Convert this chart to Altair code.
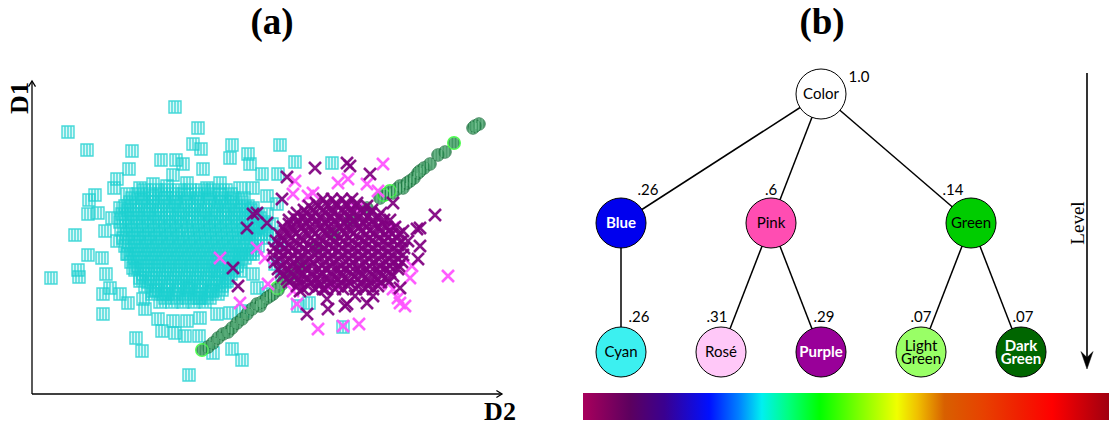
import altair as alt
import pandas as pd

# ---------------- panel (a): (D2, D1) values ----------------
cyan_pts = [
    (143, 287), (166, 266), (36, 262), (55, 244), (100, 243), (248, 249), (129, 234), (161, 250),
    (169, 245), (200, 249), (216, 240), (263, 232), (300, 231), (97, 225), (144, 234), (151, 230),
    (198, 236), (218, 230), (230, 220), (246, 220), (141, 219), (171, 225), (85, 215), (82, 206),
    (57, 194), (63, 199), (43, 159), (56, 139), (19, 116), (46, 124), (47, 117), (71, 80),
    (104, 56), (110, 43), (157, 19), (210, 34), (200, 45), (181, 41), (277, 91), (266, 88),
    (311, 67), (66, 181), (56, 180), (73, 163), (70, 136), (74, 120), (78, 106), (71, 100),
    (88, 100), (96, 91), (111, 95), (113, 85), (126, 75), (130, 63), (143, 61), (153, 58),
    (167, 58), (141, 73), (155, 73), (168, 76), (185, 80), (198, 81), (211, 83), (225, 106),
    (235, 100), (221, 120), (208, 123), (195, 113), (181, 103), (168, 96), (155, 106), (135, 100),
    (121, 103), (108, 113), (101, 126), (95, 140), (85, 153), (80, 176), (88, 186), (95, 200),
    (108, 206), (121, 210), (135, 208), (155, 211), (175, 206), (188, 211), (208, 206), (221, 206),
    (235, 198), (245, 190), (235, 180), (221, 186), (225, 166), (215, 160), (221, 140), (208, 140),
    (198, 126), (185, 123), (240, 170), (248, 150), (243, 130), (250, 115), (238, 160),
]
# dense cyan core: D1 row -> D2 positions
cyan_core_rows = {
    204: [112, 124, 135, 147, 158, 170, 181, 194],
    200: [106, 118, 129, 141, 152, 164, 176, 188, 199],
    196: [100, 111, 121, 133, 144, 156, 166, 178, 190, 201, 212],
    192: [98, 110, 121, 132, 143, 154, 166, 177, 188, 199, 210],
    188: [93, 104, 115, 126, 137, 148, 160, 171, 183, 193, 204, 216],
    184: [96, 107, 118, 129, 141, 152, 163, 174, 185, 197, 208, 219],
    180: [90, 101, 112, 123, 135, 146, 157, 168, 179, 191, 202, 213, 224],
    176: [94, 105, 116, 127, 138, 149, 160, 172, 183, 194, 205, 216, 228],
    172: [88, 99, 110, 121, 132, 143, 154, 166, 177, 188, 199, 210, 221, 232],
    168: [94, 105, 116, 127, 138, 149, 161, 172, 183, 194, 205, 216, 227],
    164: [89, 100, 111, 122, 133, 144, 156, 167, 178, 189, 200, 211, 222, 233],
    160: [95, 106, 117, 128, 139, 150, 162, 173, 184, 195, 206, 217, 229],
    156: [91, 102, 113, 124, 135, 146, 157, 168, 179, 190, 201, 212, 223, 235],
    152: [97, 108, 119, 130, 141, 152, 163, 174, 185, 196, 207, 219],
    148: [93, 104, 115, 126, 137, 148, 159, 170, 181, 192, 203, 214, 226],
    144: [100, 111, 122, 133, 144, 155, 166, 177, 188, 199, 210, 221],
    140: [96, 107, 118, 129, 140, 151, 162, 173, 184, 195, 206, 218],
    136: [103, 114, 125, 136, 147, 158, 169, 180, 191, 202, 213],
    132: [99, 110, 121, 132, 143, 154, 165, 176, 187, 198, 209],
    128: [106, 117, 128, 139, 150, 161, 172, 183, 194, 205],
    124: [103, 114, 125, 136, 147, 158, 169, 180, 191, 202],
    120: [111, 122, 133, 144, 155, 166, 177, 188, 199],
    116: [108, 119, 130, 141, 152, 163, 174, 185, 196],
    112: [116, 127, 138, 149, 160, 171, 182, 193],
    108: [113, 124, 135, 146, 157, 168, 179, 190],
    104: [124, 135, 146, 157, 168, 179, 190],
    100: [120, 131, 142, 153, 164, 175, 186],
    96: [133, 145, 156, 167, 178],
    92: [128, 140, 151, 162, 173],
}

purple_pts = [
    (283, 226), (315, 231), (255, 217), (338, 220), (403, 179), (215, 166), (221, 180), (201, 126),
    (206, 108), (275, 80), (296, 85), (315, 90), (335, 91), (388, 166), (388, 148), (386, 135),
    (368, 106), (371, 163), (295, 95), (268, 103), (225, 181), (235, 171), (250, 195), (318, 228),
    (385, 165), (361, 191), (323, 98), (376, 153), (341, 98), (313, 88), (293, 105),
]
# dense purple core: D1 row -> D2 positions
purple_core_rows = {
    105: [271, 283, 291, 303, 311, 324, 333, 341],
    108: [265, 276, 287, 296, 306, 316, 326, 336, 346],
    112: [257, 267, 279, 287, 298, 309, 317, 329, 338, 349, 357],
    115: [255, 266, 275, 285, 295, 305, 315, 325, 335, 345, 355],
    118: [251, 262, 270, 281, 289, 301, 310, 322, 330, 341, 350, 361],
    122: [249, 259, 270, 280, 290, 299, 309, 318, 328, 338, 348, 358],
    125: [246, 255, 266, 274, 286, 294, 305, 313, 326, 334, 345, 353, 366],
    128: [250, 260, 270, 280, 290, 299, 309, 318, 328, 338, 348, 358, 367],
    132: [243, 254, 262, 273, 281, 293, 302, 314, 321, 333, 342, 354, 362, 370],
    135: [248, 257, 267, 277, 287, 297, 307, 317, 327, 337, 347, 357, 366],
    139: [241, 251, 261, 270, 283, 291, 300, 311, 320, 331, 340, 351, 360, 371],
    142: [247, 256, 266, 276, 286, 296, 306, 316, 326, 336, 346, 356, 366],
    146: [242, 253, 260, 272, 280, 292, 301, 310, 322, 330, 341, 350, 362, 372],
    149: [248, 257, 267, 277, 287, 297, 307, 316, 326, 336, 346, 356, 366],
    153: [244, 252, 263, 271, 282, 290, 303, 311, 320, 332, 340, 352, 361, 370],
    156: [250, 259, 269, 279, 288, 298, 308, 317, 327, 337, 347, 356, 365],
    160: [247, 256, 264, 275, 283, 294, 302, 313, 321, 334, 342, 353, 360, 367],
    163: [253, 262, 272, 281, 291, 300, 310, 319, 329, 338, 348, 357],
    167: [251, 260, 270, 278, 289, 297, 308, 316, 327, 335, 346, 355, 363],
    170: [257, 266, 275, 285, 294, 304, 313, 323, 332, 342, 351],
    174: [257, 266, 276, 285, 295, 303, 314, 322, 333, 341, 352, 358],
    177: [262, 271, 280, 289, 299, 308, 318, 327, 336, 346],
    181: [265, 274, 283, 293, 301, 312, 320, 331, 339, 349],
    184: [272, 281, 291, 300, 310, 319, 329, 340],
    188: [277, 286, 296, 305, 315, 324, 335],
    191: [284, 294, 304, 314, 325],
    195: [291, 300, 310, 320],
}

magenta_pts = [
    (351, 230), (263, 213), (416, 118), (373, 88), (368, 91), (286, 65), (327, 70), (311, 68),
    (188, 136), (208, 91), (225, 146), (233, 136), (261, 200), (281, 201), (335, 210), (346, 203),
    (378, 116), (361, 166), (348, 110), (301, 110), (261, 103), (265, 90), (276, 198), (306, 211),
    (316, 215), (325, 185), (361, 105), (380, 128), (366, 96), (236, 110),
]

green_pts = [
    (176, 47), (181, 51), (186, 56), (191, 60), (196, 62), (200, 66), (205, 71), (210, 75),
    (215, 80), (220, 85), (225, 90), (228, 88), (230, 92), (235, 96), (238, 98), (241, 100),
    (246, 104), (250, 110), (252, 113), (255, 116), (260, 120), (268, 130), (285, 146), (301, 160),
    (318, 173), (335, 186), (348, 196), (355, 200), (361, 201), (365, 205), (368, 208), (371, 206),
    (375, 211), (378, 213), (382, 216), (386, 221), (388, 223), (392, 226), (398, 230), (406, 239),
    (413, 242), (441, 266), (447, 270), (443, 268),
]
green_rim_pts = [(170, 44), (245, 106), (358, 203), (422, 251), (352, 199)]

# ---------------- panel (b): colour hierarchy ----------------
node_names = ["Color", "Blue", "Pink", "Green", "Cyan", "Rosé", "Purple", "Light Green", "Dark Green"]
node_parent = [None, "Color", "Color", "Color", "Blue", "Pink", "Pink", "Green", "Green"]
node_weight = ["1.0", ".26", ".6", ".14", ".26", ".31", ".29", ".07", ".07"]
node_level = [0, 1, 1, 1, 2, 2, 2, 2, 2]

# ---------------- layout / style ----------------
node_slot = [4, 0, 3, 7, 0, 2, 4, 6, 8]
node_fill = {
    "Color": "#FFFFFF", "Blue": "#0000EE", "Pink": "#FF4DB2", "Green": "#00CC00",
    "Cyan": "#3CF0F0", "Rosé": "#FFC8F8", "Purple": "#990099", "Light Green": "#99FF66",
    "Dark Green": "#006600",
}
bold_white = {"Blue", "Purple", "Dark Green"}
weight_shift_px = [(38, -17), (27, -33), (0, -33), (-18, -33), (18, -35), (-4, -35), (3, -35), (0, -35), (2, -35)]
SLOT_PX, LEVEL_PX = 50.0, 129.0

rainbow = [
    (0.0, "#A8005C"), (0.09, "#5C005F"), (0.155, "#3A0090"), (0.24, "#0010FF"), (0.296, "#0080FF"),
    (0.34, "#00F0F0"), (0.39, "#00FF80"), (0.45, "#00FF00"), (0.527, "#80FF00"), (0.597, "#F0FF00"),
    (0.636, "#F0C000"), (0.687, "#D86000"), (0.764, "#E84000"), (0.828, "#F02000"), (0.892, "#FF0000"),
    (1.0, "#A00010"),
]

W_A, W_B, H = 560, 541, 415
SQ_HATCH = "M-1,-1L1,-1L1,1L-1,1Z M-0.5,-1L-0.5,1 M0,-1L0,1 M0.5,-1L0.5,1"
X_SHAPE = "M-1,-1L1,1 M-1,1L1,-1"
CIRC_HATCH = "M-0.5,-0.8L-0.5,0.8 M0,-0.95L0,0.95 M0.5,-0.8L0.5,0.8"
CHEV_UP = "M-1,1.6L0,0L1,1.6"
CHEV_RIGHT = "M-1.6,-1L0,0L-1.6,1"
ARROW_DOWN = "M0,0L-1,-2.9L0,-1.9L1,-2.9Z"
SERIF = "Liberation Serif"
SANS = "Lato"

# ================= panel (a) =================
xa = alt.Scale(domain=[0, 470], range=[24, 494])
ya = alt.Scale(domain=[0, 313], range=[385, 72])


def pts(p):
    return pd.DataFrame(p, columns=["d2", "d1"])


def rows_to_pts(rows):
    return [(d2, d1) for d1, d2s in rows.items() for d2 in d2s]


def enc_a(ch, **extra):
    return ch.encode(x=alt.X("d2:Q", scale=xa, axis=None), y=alt.Y("d1:Q", scale=ya, axis=None), **extra)


def text_at(txt, x, y, **kw):
    return alt.Chart(pd.DataFrame({"t": [txt]})).mark_text(**kw).encode(
        text="t:N", x=alt.value(x), y=alt.value(y))


cyan_all = pts(cyan_pts + rows_to_pts(cyan_core_rows))
purple_all = pts(purple_pts + rows_to_pts(purple_core_rows))

cyan_layer = enc_a(alt.Chart(cyan_all).mark_point(
    shape=SQ_HATCH, size=144, filled=True, fill="#1CCFCF", fillOpacity=0.15,
    stroke="#1CCFCF", strokeOpacity=0.8, strokeWidth=1.4, opacity=1))
magenta_layer = enc_a(alt.Chart(pts(magenta_pts)).mark_point(
    shape=X_SHAPE, size=144, filled=False, stroke="#FF55FF", strokeWidth=2.6, opacity=0.95))
purple_layer = enc_a(alt.Chart(purple_all).mark_point(
    shape=X_SHAPE, size=144, filled=False, stroke="#800080", strokeWidth=2.6, opacity=0.92))
green_all = pts(green_pts + green_rim_pts)
green_layer = enc_a(alt.Chart(pts(green_pts)).mark_point(
    shape="circle", size=156, filled=True, fill="#22854A", stroke="#1B6E3C", strokeWidth=1, opacity=0.8))
green_rim_layer = enc_a(alt.Chart(pts(green_rim_pts)).mark_point(
    shape="circle", size=156, filled=True, fill="#22854A", stroke="#33FF33", strokeWidth=1.5, opacity=0.85))
green_hatch = enc_a(alt.Chart(green_all).mark_point(
    shape=CIRC_HATCH, size=156, filled=False, stroke="#8FD4A8", strokeWidth=1, opacity=0.7))

axis_df = pd.DataFrame({"d2": [0, 0], "d1": [0, 0], "d2e": [0, 470], "d1e": [313, 0]})
axis_lines = alt.Chart(axis_df).mark_rule(color="black", strokeWidth=1.3).encode(
    x=alt.X("d2:Q", scale=xa, axis=None), y=alt.Y("d1:Q", scale=ya, axis=None),
    x2="d2e:Q", y2="d1e:Q")
tips_df = pd.DataFrame({"d2": [0, 470], "d1": [313, 0], "sh": [CHEV_UP, CHEV_RIGHT]})
axis_tips = enc_a(alt.Chart(tips_df).mark_point(
    filled=False, size=49, stroke="black", strokeWidth=1.3, opacity=1),
    shape=alt.Shape("sh:N", scale=None))

title_a = text_at("(a)", 264, 25, font=SERIF, fontSize=37, fontWeight="bold", align="center", baseline="alphabetic")
d1_lab = text_at("D1", 12, 89, font=SERIF, fontSize=26, fontWeight="bold", angle=270, align="center", baseline="middle")
d2_lab = text_at("D2", 492, 403, font=SERIF, fontSize=26, fontWeight="bold", align="center", baseline="middle")

panel_a = alt.layer(
    axis_lines, axis_tips, cyan_layer, green_layer, green_rim_layer, green_hatch,
    magenta_layer, purple_layer, title_a, d1_lab, d2_lab,
).properties(width=W_A, height=H)

# ================= panel (b) =================
xb = alt.Scale(domain=[0, 8], range=[53, 453])
yb = alt.Scale(domain=[0, 2], range=[85, 343])

slot_of = dict(zip(node_names, node_slot))
level_of = dict(zip(node_names, node_level))
nodes = pd.DataFrame({
    "name": node_names,
    "label": [n.replace(" ", "\n") for n in node_names],
    "two": [" " in n for n in node_names],
    "slot": node_slot,
    "level": node_level,
    "fill": [node_fill[n] for n in node_names],
    "bold": [n in bold_white for n in node_names],
    "weight": node_weight,
    "wx": [s + dx / SLOT_PX for s, (dx, dy) in zip(node_slot, weight_shift_px)],
    "wy": [l + dy / LEVEL_PX for l, (dx, dy) in zip(node_level, weight_shift_px)],
})
edges = pd.DataFrame([
    {"ps": slot_of[p], "pl": level_of[p], "cs": slot_of[c], "cl": level_of[c]}
    for c, p in zip(node_names, node_parent) if p is not None
])

edge_layer = alt.Chart(edges).mark_rule(color="black", strokeWidth=1.5).encode(
    x=alt.X("ps:Q", scale=xb, axis=None), y=alt.Y("pl:Q", scale=yb, axis=None),
    x2="cs:Q", y2="cl:Q")
node_layer = alt.Chart(nodes).mark_circle(size=2500, stroke="black", strokeWidth=1, opacity=1).encode(
    x=alt.X("slot:Q", scale=xb, axis=None), y=alt.Y("level:Q", scale=yb, axis=None),
    fill=alt.Fill("fill:N", scale=None))


def node_labels(bold, two):
    flt = ("datum.bold" if bold else "!datum.bold") + " && " + ("datum.two" if two else "!datum.two")
    kw = dict(font=SANS, fontSize=15, lineBreak="\n", lineHeight=13, baseline="middle",
              color="white" if bold else "black")
    if bold:
        kw["fontWeight"] = "bold"
    if two:
        kw["dy"] = -6.5
    return alt.Chart(nodes).transform_filter(flt).mark_text(**kw).encode(
        x=alt.X("slot:Q", scale=xb, axis=None), y=alt.Y("level:Q", scale=yb, axis=None), text="label:N")


weight_layer = alt.Chart(nodes).mark_text(font=SANS, fontSize=15, color="black", baseline="middle").encode(
    x=alt.X("wx:Q", scale=xb, axis=None), y=alt.Y("wy:Q", scale=yb, axis=None), text="weight:N")

one = pd.DataFrame({"k": [0]})
level_rule = alt.Chart(one).mark_rule(color="black", strokeWidth=1.6).encode(
    x=alt.value(519), y=alt.value(64), y2=alt.value(352))
level_head = alt.Chart(one).mark_point(shape=ARROW_DOWN, size=144, filled=True, fill="black",
                                        stroke="black", strokeWidth=0.5, opacity=1).encode(
    x=alt.value(519), y=alt.value(360))
level_text = text_at("Level", 510, 214, font=SERIF, fontSize=19, angle=270, align="center", baseline="middle")
title_b = text_at("(b)", 254, 25, font=SERIF, fontSize=37, fontWeight="bold", align="center", baseline="alphabetic")

grad = alt.Gradient(
    gradient="linear",
    stops=[alt.GradientStop(offset=o, color=c) for o, c in rainbow],
    x1=0, x2=1, y1=0, y2=0,
)
bar = alt.Chart(one).mark_rect(fill=grad).encode(
    x=alt.value(15), x2=alt.value(W_B), y=alt.value(384), y2=alt.value(411))

panel_b = alt.layer(
    edge_layer, node_layer,
    node_labels(False, False), node_labels(False, True), node_labels(True, False), node_labels(True, True),
    weight_layer, level_rule, level_head, level_text, title_b, bar,
).properties(width=W_B, height=H)

chart = alt.hconcat(panel_a, panel_b, spacing=0).properties(
    padding={"top": -4, "left": -1, "right": 0, "bottom": 0}
).configure_view(stroke=None)
chart.save("out.html", embed_options={"renderer": "svg", "actions": False})
